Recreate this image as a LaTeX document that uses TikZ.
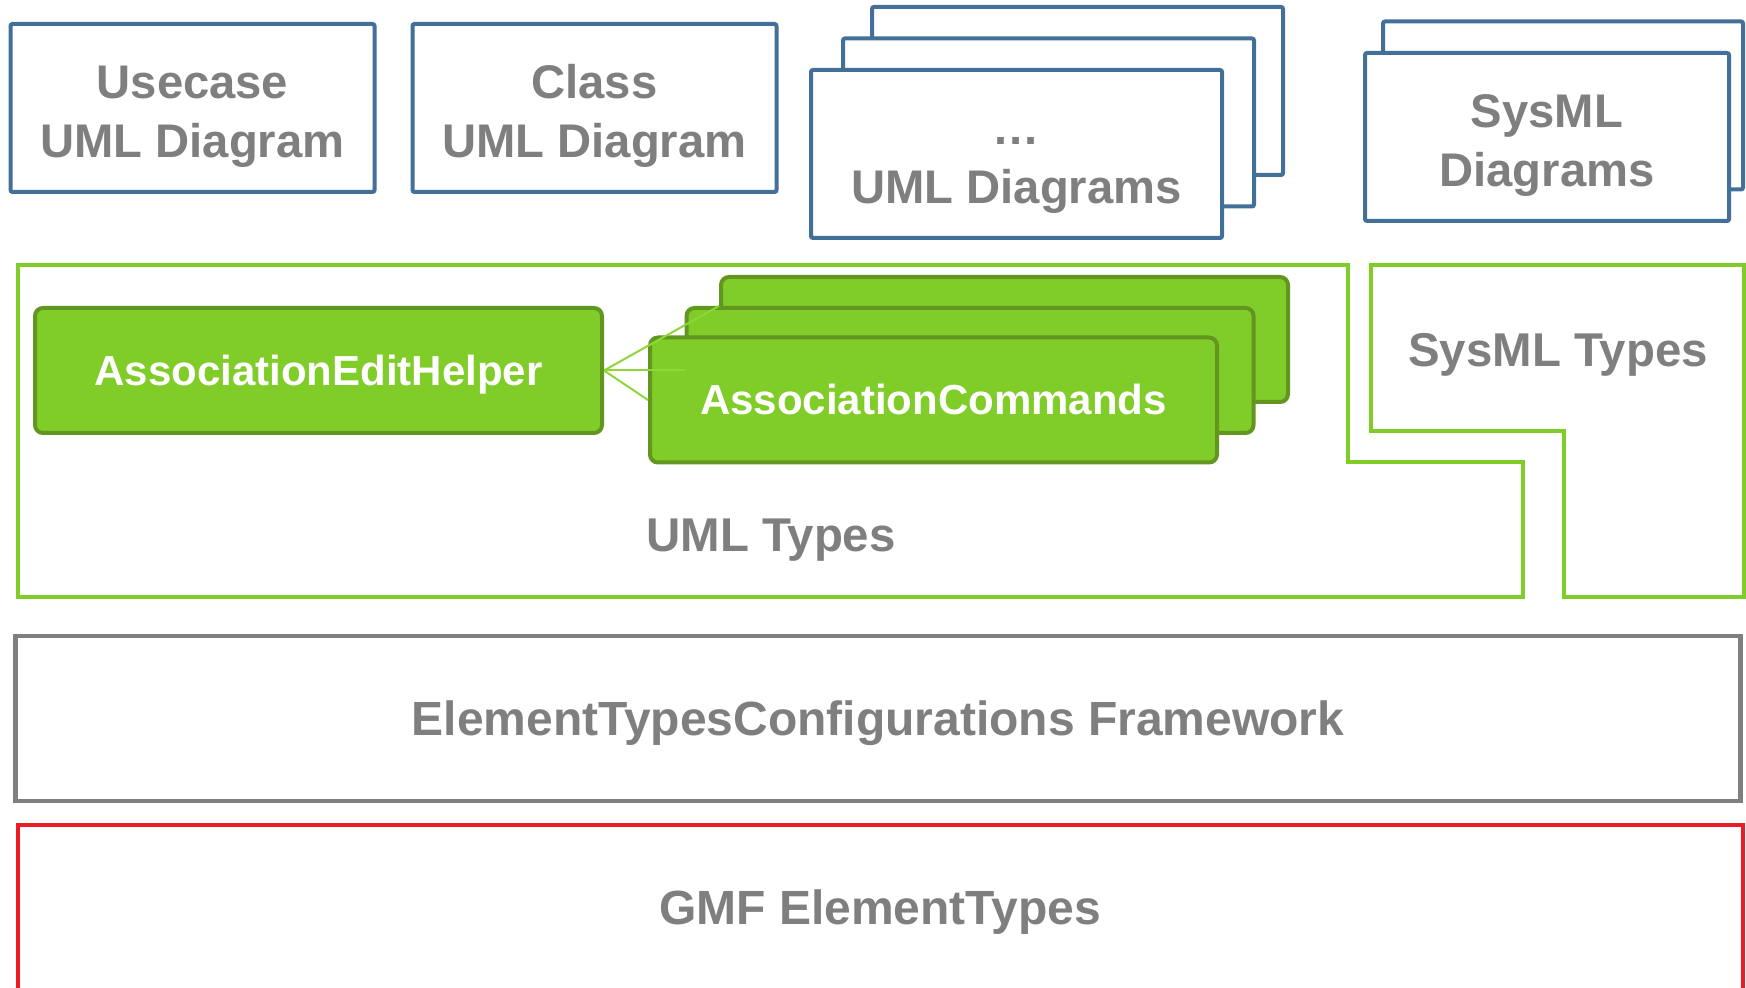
\documentclass[tikz,border=0pt]{standalone}
\usepackage{fontspec}
\setmainfont{Liberation Sans}
\definecolor{diagblue}{RGB}{66,112,153}
\definecolor{typegreen}{RGB}{128,204,40}
\definecolor{edgegreen}{RGB}{98,150,32}
\definecolor{linkgreen}{RGB}{142,214,58}
\definecolor{textgray}{RGB}{127,127,127}
\definecolor{gmfred}{RGB}{237,28,36}

\begin{document}
\begin{tikzpicture}[x=0.5pt,y=-0.5pt]
\useasboundingbox (0,0) rectangle (1746,988);
\tikzset{DiagramStyle/.style ={draw=diagblue, line width=2pt, fill=white, rounded corners=1pt,
  minimum width=182pt, minimum height=84pt, inner sep=0, align=center, text=textgray,
  text height=49.3pt, text depth=0pt, font=\bfseries\fontsize{23.6}{29.5}\selectfont}}
\tikzset{TypeStyle/.style ={draw=typegreen, line width=2pt}}
\tikzset{LabelStyle/.style ={text=textgray, text height=16.8pt, text depth=0pt,
  font=\bfseries\fontsize{23.7}{28}\selectfont}}
\tikzset{HelperStyle/.style ={draw=edgegreen, fill=typegreen, line width=2pt, rounded corners=4pt,
  minimum width=283.5pt, minimum height=62.5pt, text=white, text height=15pt, text depth=0pt,
  font=\bfseries\fontsize{21}{25}\selectfont}}
\tikzset{LayerStyle/.style ={line width=2.25pt, minimum width=862.5pt, minimum height=82.5pt,
  text=textgray, text height=17pt, text depth=0pt, font=\bfseries\fontsize{24}{28}\selectfont}}
\tikzset{LinkStyle/.style ={draw=linkgreen, line width=1pt}}

\node[DiagramStyle] (usecase) at (192.5,108) {Usecase\\UML Diagram};
\node[DiagramStyle] (class) at (594.5,108) {Class\\UML Diagram};
\node[DiagramStyle, minimum width=205.5pt] (umlBack) at (1077.5,91) {};
\node[DiagramStyle, minimum width=205.5pt] (umlMid) at (1048.5,122.5) {};
\node[DiagramStyle, minimum width=205.5pt] (umlFront) at (1016.5,154) {…\\UML Diagrams};
\node[DiagramStyle, minimum width=180pt] (sysmlBack) at (1563,105.5) {};
\node[DiagramStyle] (sysmlFront) at (1547,137) {SysML\\Diagrams};

\draw[TypeStyle] (18,265) -- (1348,265) -- (1348,462) -- (1523,462) -- (1523,597) -- (18,597) -- cycle;
\draw[TypeStyle] (1371,265) -- (1744,265) -- (1744,597) -- (1564,597) -- (1564,431) -- (1371,431) -- cycle;
\node[LabelStyle] (umlTypes) at (771,535) {UML Types};
\node[LabelStyle] (sysmlTypes) at (1558,349.5) {SysML Types};

\node[HelperStyle] (helper) at (318.5,370.5) {AssociationEditHelper};
\node[HelperStyle] (cmdBack) at (1004.5,339.5) {};
\node[HelperStyle] (cmdMid) at (970,370.5) {};
\node[HelperStyle] (cmdFront) at (933.5,400) {AssociationCommands};
\draw[LinkStyle] (helper.east) -- (cmdBack.west |- cmdMid.north);
\draw[LinkStyle] (helper.east) -- (cmdMid.west);
\draw[LinkStyle] (helper.east) -- (cmdFront.west);

\node[LayerStyle, draw=textgray] (framework) at (878,718.5) {ElementTypesConfigurations Framework};
\node[LayerStyle, draw=gmfred, line width=2pt] (gmf) at (880,907) {GMF ElementTypes};
\end{tikzpicture}
\end{document}
